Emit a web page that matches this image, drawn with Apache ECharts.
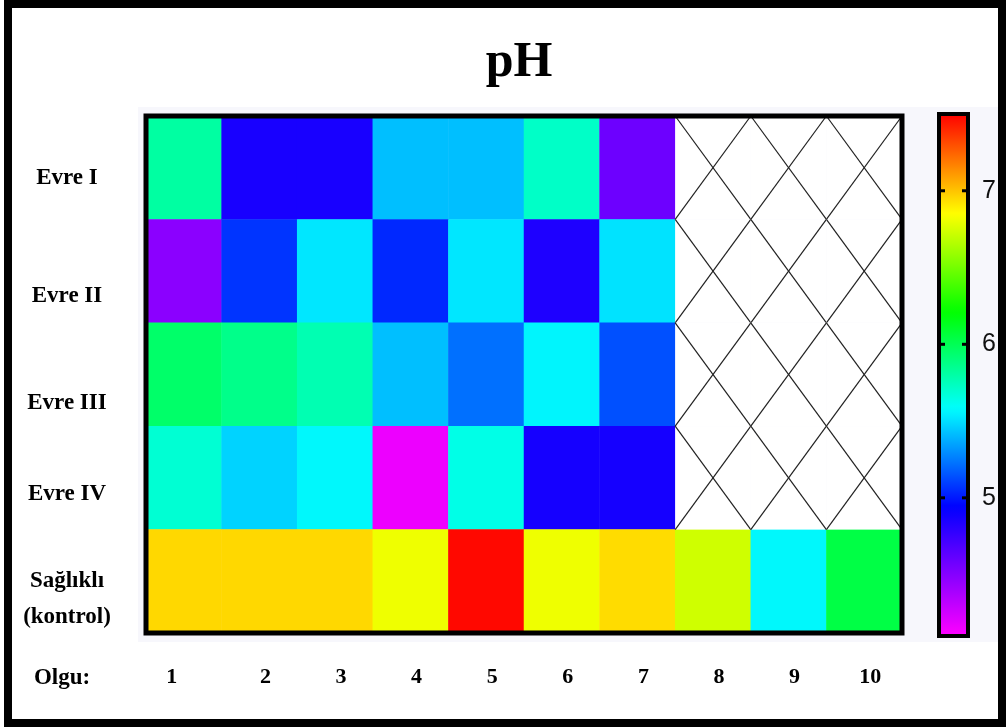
<!DOCTYPE html>
<html>
<head>
<meta charset="utf-8">
<script src="https://cdn.jsdelivr.net/npm/echarts@6/dist/echarts.min.js"></script>
<style>
html,body{margin:0;padding:0;background:#fff;}
#c{width:1006px;height:727px;}
</style>
</head>
<body>
<div id="c"></div>
<script>
// ---- data ----
const cases = ['1','2','3','4','5','6','7','8','9','10'];
const groups = ['Evre I','Evre II','Evre III','Evre IV','Sağlıklı\n(kontrol)'];
const evreI   = [5.81, 4.86, 4.86, 5.42, 5.42, 5.72, 4.58, null, null, null];
const evreII  = [4.48, 5.07, 5.52, 5.04, 5.52, 4.84, 5.51, null, null, null];
const evreIII = [5.95, 5.87, 5.77, 5.42, 5.22, 5.56, 5.14, null, null, null];
const evreIV  = [5.69, 5.47, 5.57, 4.16, 5.64, 4.87, 4.87, null, null, null];
const control = [6.95, 6.95, 6.95, 6.81, 7.48, 6.81, 6.94, 6.73, 5.57, 6.04];
const colorbarTicks = [5, 6, 7];
const scaleMin = 4.1, scaleMax = 7.5;

const rowsData = [evreI, evreII, evreIII, evreIV, control];
const heatData = [], emptyCells = [];
rowsData.forEach((row, yi) => row.forEach((v, xi) => {
  if (v === null) emptyCells.push([xi, yi]); else heatData.push([xi, yi, v]);
}));

// rainbow colour map (hue stops)
const hueStops = [[4.1,300],[4.94,240],[5.58,180],[6.21,120],[6.85,60],[7.5,0]];
function hueAt(v){
  for (let i=0;i<hueStops.length-1;i++){
    const a=hueStops[i], b=hueStops[i+1];
    if (v<=b[0]) return a[1]+(b[1]-a[1])*(v-a[0])/(b[0]-a[0]);
  }
  return 0;
}
const rampColors = [];
for (let i=0;i<=68;i++){ const v = scaleMin + (scaleMax-scaleMin)*i/68; rampColors.push('hsl('+hueAt(v).toFixed(1)+',100%,50%)'); }

// ---- layout ----
const G = {left:146, top:116, width:756, height:517};
const CB = {left:939, top:114, width:29, height:522};
const serif = '"Liberation Serif","Times New Roman",serif';
const LFS = 23;
function lab(extra){ return Object.assign({fontFamily:serif, fontWeight:'bold', fontSize:LFS, color:'#000'}, extra||{}); }

const chart = echarts.init(document.getElementById('c'), null, {renderer:'canvas'});
chart.setOption({
  backgroundColor:'#fff',
  animation:false,
  graphic:[
    {type:'rect', z:-10, shape:{x:138,y:107,width:862,height:535}, style:{fill:'#f7f7fc'}},
    {type:'rect', z:100, shape:{x:8,y:4,width:994,height:719}, style:{fill:null, stroke:'#000', lineWidth:8}},
    {type:'rect', z:100, shape:{x:G.left,y:G.top,width:G.width,height:G.height}, style:{fill:null, stroke:'#000', lineWidth:5}},
    {type:'rect', z:100, shape:{x:CB.left,y:CB.top,width:CB.width,height:CB.height}, style:{fill:null, stroke:'#000', lineWidth:4}},
    {type:'text', z:100, x:519, y:63, style:{text:'pH', align:'center', verticalAlign:'middle', font:'bold 50px '+serif, fill:'#000'}},
    {type:'text', z:100, x:62, y:678, style:{text:'Olgu:', align:'center', verticalAlign:'middle', font:'bold '+LFS+'px '+serif, fill:'#000'}}
  ],
  grid:[
    {left:G.left, top:G.top, width:G.width, height:G.height, containLabel:false},
    {left:CB.left, top:CB.top, width:CB.width, height:CB.height, containLabel:false}
  ],
  xAxis:[
    {type:'category', gridIndex:0, data:cases, position:'bottom',
     axisLine:{show:false}, axisTick:{show:false}, splitLine:{show:false},
     axisLabel:{margin:33, color:'#000', fontFamily:serif, fontWeight:'bold', fontSize:22,
       formatter:function(v){ return v==='1' ? '{a|'+v+'}' : '{b|'+v+'}'; },
       rich:{a:{padding:[0,24,0,0], fontFamily:serif, fontWeight:'bold', fontSize:22, color:'#000'},
             b:{padding:[0,0,0,12], fontFamily:serif, fontWeight:'bold', fontSize:22, color:'#000'}}}},
    {type:'value', gridIndex:1, show:false, min:0, max:1}
  ],
  yAxis:[
    {type:'category', gridIndex:0, data:groups, inverse:true,
     axisLine:{show:false}, axisTick:{show:false}, splitLine:{show:false},
     axisLabel:{margin:79, align:'center', color:'#000', fontFamily:serif, fontWeight:'bold', fontSize:LFS,
       formatter:function(v, i){
         if (i===4) return '{sp| }\n{l|Sağlıklı}\n{l|(kontrol)}';
         return '{p'+i+'|'+v+'}';
       },
       rich:{
         p0:lab({padding:[20,0,0,0]}),
         p1:lab({padding:[50,0,0,0]}),
         p2:lab({padding:[58,0,0,0]}),
         p3:lab({padding:[32,0,0,0]}),
         sp:lab({height:36, lineHeight:36}),
         l:lab({height:36, lineHeight:36})
       }}},
    {type:'value', gridIndex:1, position:'right', min:scaleMin, max:scaleMax,
     axisLine:{show:false}, splitLine:{show:false}, axisTick:{show:false},
     axisLabel:{show:true, margin:14, color:'#111', fontFamily:'"Liberation Sans",Arial,sans-serif', fontSize:25, customValues:colorbarTicks}}
  ],
  visualMap:{
    type:'continuous', min:scaleMin, max:scaleMax, seriesIndex:0, dimension:2,
    orient:'vertical', left:CB.left, top:CB.top, itemWidth:CB.width, itemHeight:CB.height,
    padding:0, calculable:false, hoverLink:false, text:null, showLabel:false,
    inRange:{color:rampColors}
  },
  series:[
    {type:'heatmap', xAxisIndex:0, yAxisIndex:0, data:heatData,
     itemStyle:{borderWidth:0}, emphasis:{disabled:true}, progressive:0},
    {type:'custom', xAxisIndex:0, yAxisIndex:0, data:emptyCells, encode:{x:0,y:1},
     renderItem:function(params, api){
       const c = api.coord([api.value(0), api.value(1)]);
       const s = api.size([1,1]);
       const x0 = c[0]-s[0]/2, y0 = c[1]-s[1]/2;
       return {type:'group', children:[
         {type:'rect', shape:{x:x0,y:y0,width:s[0],height:s[1]}, style:{fill:'#fff'}},
         {type:'line', shape:{x1:x0,y1:y0,x2:x0+s[0],y2:y0+s[1]}, style:{stroke:'#222', lineWidth:1.2}},
         {type:'line', shape:{x1:x0+s[0],y1:y0,x2:x0,y2:y0+s[1]}, style:{stroke:'#222', lineWidth:1.2}}
       ]};
     }}
  ]
});

// colour-bar notches, placed through the colour-bar axis scale
const notches = [];
colorbarTicks.forEach(t => {
  const y = chart.convertToPixel({yAxisIndex:1}, t);
  notches.push({type:'line', z:110, shape:{x1:CB.left, y1:y, x2:CB.left+6, y2:y}, style:{stroke:'#000', lineWidth:3}});
  notches.push({type:'line', z:110, shape:{x1:CB.left+CB.width-6, y1:y, x2:CB.left+CB.width, y2:y}, style:{stroke:'#000', lineWidth:3}});
});
chart.setOption({graphic: chart.getOption().graphic[0].elements.concat(notches)});
</script>
</body>
</html>
